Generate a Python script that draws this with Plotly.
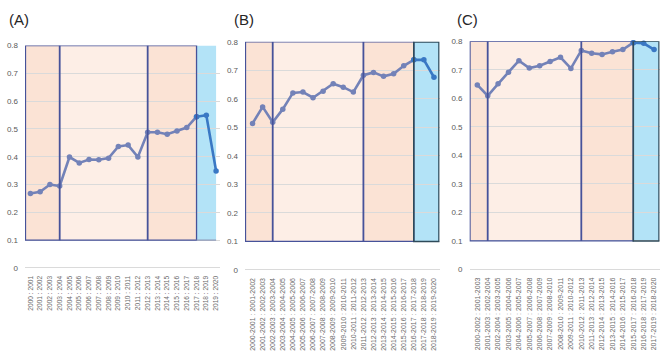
import plotly.graph_objects as go

W, H = 669, 355

# ---------------- data ----------------
labels_a = [f"{y} : {y+1}" for y in range(2000, 2020)]
values_a = [0.268, 0.274, 0.300, 0.295, 0.399, 0.378, 0.390, 0.389, 0.395, 0.437,
            0.442, 0.399, 0.488, 0.488, 0.481, 0.493, 0.505, 0.544, 0.549, 0.349]

labels_b = [f"{y}-{y+1} : {y+1}-{y+2}" for y in range(2000, 2019)]
values_b = [0.514, 0.572, 0.518, 0.564, 0.621, 0.624, 0.604, 0.627, 0.653, 0.641,
            0.624, 0.683, 0.693, 0.679, 0.688, 0.716, 0.737, 0.737, 0.676]

labels_c = [f"{y}-{y+2} : {y+1}-{y+3}" for y in range(2000, 2018)]
values_c = [0.647, 0.609, 0.651, 0.691, 0.732, 0.706, 0.714, 0.729, 0.744, 0.705,
            0.768, 0.758, 0.754, 0.763, 0.771, 0.795, 0.793, 0.771]

titles = ["(A)", "(B)", "(C)"]
y_ticks = [0, 0.1, 0.2, 0.3, 0.4, 0.5, 0.6, 0.7, 0.8]
# period boundaries (category index): start, split1, split2, blue start, end
bounds_a = [-0.5, 3, 12, 17, 19.0]
bounds_b = [-0.7, 2, 11, 16, 18.5]
bounds_c = [-0.7, 1, 10, 15, 17.48]

# ---------------- style ----------------
ORANGE = "#FBE3D5"
LIGHT = "#FDEEE6"
BLUE = "#B3E3F7"
NAVY = "#46529A"
DARKBOX = "#2E4A5A"
LINE_GRAY = "#7382B8"
LINE_BLUE = "#3A78C4"
GRID = "#DADADA"
TICKC = "#595959"
FONT = "Liberation Sans"
YLOW = -0.02

panels = [
    dict(labels=labels_a, values=values_a, bounds=bounds_a, xfs=6.6,
         xpx=(25, 220), xr=(-0.55, 19.4), ypx=(42, 267), title_x=7, blue_box=False),
    dict(labels=labels_b, values=values_b, bounds=bounds_b, xfs=7,
         xpx=(245, 439.5), xr=(-0.75, 18.55), ypx=(38.3, 269), title_x=232, blue_box=True),
    dict(labels=labels_c, values=values_c, bounds=bounds_c, xfs=7,
         xpx=(469.5, 659.5), xr=(-0.75, 17.52), ypx=(37.7, 268.5), title_x=455, blue_box=True),
]

fig = go.Figure()
shapes = []
annotations = []

for k, p in enumerate(panels):
    n = k + 1
    xa = "x" if n == 1 else f"x{n}"
    ya = "y" if n == 1 else f"y{n}"
    xs = list(range(len(p["values"])))
    b = p["bounds"]
    split = b[3]
    gx = [x for x in xs if x <= split]
    fig.add_trace(go.Scatter(x=gx, y=[p["values"][i] for i in gx], mode="lines+markers",
                             line=dict(color=LINE_GRAY, width=2.6),
                             marker=dict(size=5.5, color=LINE_GRAY),
                             xaxis=xa, yaxis=ya, showlegend=False, hoverinfo="skip",
                             cliponaxis=False))
    bx = [x for x in xs if x >= split]
    fig.add_trace(go.Scatter(x=bx, y=[p["values"][i] for i in bx], mode="lines+markers",
                             line=dict(color=LINE_BLUE, width=2.6),
                             marker=dict(size=5.5, color=LINE_BLUE),
                             xaxis=xa, yaxis=ya, showlegend=False, hoverinfo="skip",
                             cliponaxis=False))

    fills = [ORANGE, LIGHT, ORANGE, BLUE]
    for i in range(4):
        shapes.append(dict(type="rect", xref=xa, yref=ya, x0=b[i], x1=b[i + 1], y0=0.1, y1=0.8,
                           fillcolor=fills[i], line=dict(width=0), layer="below"))
    shapes.append(dict(type="rect", xref=xa, yref=ya, x0=b[0], x1=b[3], y0=0.1, y1=0.8,
                       fillcolor="rgba(0,0,0,0)", line=dict(color=NAVY, width=1.3), layer="above"))
    for xv in (b[1], b[2]):
        shapes.append(dict(type="line", xref=xa, yref=ya, x0=xv, x1=xv, y0=0.1, y1=0.8,
                           line=dict(color=NAVY, width=1.8), layer="above"))
    if p["blue_box"]:
        shapes.append(dict(type="rect", xref=xa, yref=ya, x0=b[3], x1=b[4], y0=0.1, y1=0.8,
                           fillcolor="rgba(0,0,0,0)", line=dict(color=DARKBOX, width=1.6), layer="above"))
    else:
        shapes.append(dict(type="line", xref=xa, yref=ya, x0=b[3], x1=b[4], y0=0.1, y1=0.1,
                           line=dict(color="#8E9AB8", width=1.3), layer="above"))

    x0px, x1px = p["xpx"]
    ytop, ybot = p["ypx"]
    ybot_ext = ybot + (-YLOW) * (ybot - ytop) / 0.8
    fig.layout[f"xaxis{'' if n == 1 else n}"] = dict(
        domain=[x0px / W, x1px / W], range=list(p["xr"]), anchor=ya,
        tickmode="array", tickvals=xs, ticktext=p["labels"], tickangle=-90,
        tickfont=dict(family=FONT, size=p["xfs"], color="#6A6A6A"), showgrid=False,
        zeroline=False, showline=False, ticks="", fixedrange=True)
    fig.layout[f"yaxis{'' if n == 1 else n}"] = dict(
        domain=[(H - ybot_ext) / H, (H - ytop) / H], range=[YLOW, 0.8], anchor=xa,
        tickmode="array", tickvals=y_ticks, ticktext=[f"{v:g}" for v in y_ticks],
        tickfont=dict(family=FONT, size=8, color=TICKC), showgrid=True,
        gridcolor=GRID, gridwidth=1, zeroline=False, showline=False, ticks="",
        ticklabelstandoff=6, fixedrange=True)
    annotations.append(dict(text=titles[k], xref="paper", yref="paper",
                            x=p["title_x"] / W, y=(H - 5) / H, xanchor="left", yanchor="top",
                            showarrow=False, font=dict(family=FONT, size=15, color="#262626")))

fig.update_layout(width=W, height=H, margin=dict(l=0, r=0, t=0, b=0),
                  paper_bgcolor="white", plot_bgcolor="white",
                  shapes=shapes, annotations=annotations, showlegend=False)

fig.write_html("out.html", config={"displayModeBar": False}, post_script=(
    "document.body.style.margin='0';document.body.style.padding='0';"
    "document.documentElement.style.overflow='hidden';"))
